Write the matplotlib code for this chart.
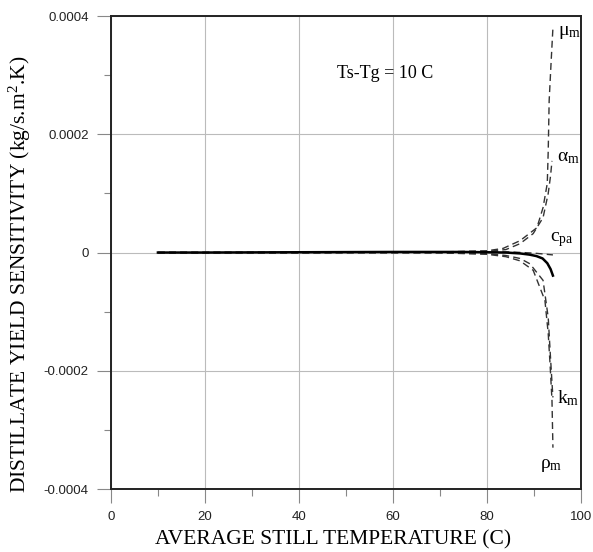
import matplotlib
matplotlib.use("Agg")
import matplotlib.pyplot as plt
from matplotlib.ticker import MultipleLocator

# Data
solid_x = [10, 20, 40, 60, 75, 80, 84, 87, 89, 90.5, 91.8, 92.8, 93.5, 94.0]
solid_y = [0, 0, 0.5e-6, 1.0e-6, 1.0e-6, 0.5e-6, 0, -1.5e-6, -3.5e-6, -6e-6, -1.0e-5, -1.8e-5, -2.8e-5, -3.9e-5]

mu_x = [10, 40, 70, 80, 83.4, 87.0, 90.6, 91.9, 92.8, 93.0, 93.2, 93.6, 94.0]
mu_y = [0, 0, 1e-6, 3e-6, 7e-6, 2.0e-5, 4.2e-5, 7.6e-5, 1.17e-4, 1.72e-4, 2.57e-4, 3.2e-4, 3.8e-4]

alpha_x = [10, 40, 70, 80, 84, 87.0, 89.8, 91.9, 93.0, 93.5, 93.8]
alpha_y = [0, 0, 1e-6, 2e-6, 5e-6, 1.5e-5, 3.2e-5, 5.9e-5, 1.0e-4, 1.3e-4, 1.55e-4]

cpa_x = [10, 40, 70, 80, 85, 90, 94.0]
cpa_y = [0, 0, 0.5e-6, 1e-6, 1e-6, -1e-6, -4e-6]

k_x = [10, 40, 70, 80, 84, 87, 89.1, 91.9, 93.0, 93.4, 93.8, 94.0]
k_y = [0, 0, -0.5e-6, -2e-6, -5e-6, -1.0e-5, -1.9e-5, -4.7e-5, -1.1e-4, -1.66e-4, -2.2e-4, -2.45e-4]

rho_x = [10, 40, 70, 80, 84, 87, 89.8, 92.3, 93.0, 93.4, 93.8, 94.0]
rho_y = [0, 0, -0.5e-6, -3e-6, -7e-6, -1.4e-5, -3.0e-5, -8.1e-5, -1.37e-4, -1.9e-4, -2.5e-4, -3.3e-4]

x_ticks = [0, 20, 40, 60, 80, 100]
y_ticks = [-0.0004, -0.0002, 0, 0.0002, 0.0004]
y_ticklabels = ["-0.0004", "-0.0002", "0", "0.0002", "0.0004"]

serif = "Liberation Serif"
sans = "Liberation Sans"

plt.rcParams["mathtext.fontset"] = "custom"
plt.rcParams["mathtext.rm"] = serif
plt.rcParams["mathtext.it"] = serif + ":italic"

fig = plt.figure(figsize=(5.93, 5.52), dpi=100)
ax = fig.add_axes([0.187, 0.114, 0.793, 0.857])

dash = (0, (5, 3))
ax.plot(mu_x, mu_y, color="#333333", lw=1.0, ls=dash)
ax.plot(alpha_x, alpha_y, color="#333333", lw=1.0, ls=dash)
ax.plot(cpa_x, cpa_y, color="#333333", lw=1.0, ls=dash)
ax.plot(k_x, k_y, color="#333333", lw=1.0, ls=dash)
ax.plot(rho_x, rho_y, color="#333333", lw=1.0, ls=dash)
ax.plot(solid_x, solid_y, color="black", lw=1.8)

ax.set_xlim(0, 100)
ax.set_ylim(-0.0004, 0.0004)
ax.set_xticks(x_ticks)
ax.set_yticks(y_ticks)
ax.set_yticklabels(y_ticklabels)
ax.xaxis.set_minor_locator(MultipleLocator(10))
ax.yaxis.set_minor_locator(MultipleLocator(0.0001))
ax.grid(True, which="major", color="#bbbbbb", lw=0.8)
ax.set_axisbelow(True)
ax.tick_params(which="major", direction="out", length=10, width=0.8, color="#888888", pad=6)
ax.tick_params(which="minor", direction="out", length=5, width=0.8, color="#888888")
for lab in ax.get_xticklabels() + ax.get_yticklabels():
    lab.set_fontfamily(sans)
    lab.set_fontsize(9.5)
    lab.set_color("#222222")
for sp in ax.spines.values():
    sp.set_linewidth(1.4)
    sp.set_color("#222222")

ax.set_xlabel("AVERAGE STILL TEMPERATURE (C)", family=serif, fontsize=15.5)
ax.xaxis.set_label_coords(0.473, -0.088)
ax.set_ylabel("DISTILLATE YIELD SENSITIVITY (kg/s.m$^{2}$.K)", family=serif, fontsize=15.5)
ax.yaxis.set_label_coords(-0.166, 0.455)

ax.text(48.1, 3.02e-4, "Ts-Tg = 10 C", family=serif, fontsize=13, va="center", ha="left")

lbl_kw = dict(fontsize=14, va="center", ha="left", family=serif)
ax.text(95.0, 3.72e-4, "$\\mathrm{\u03bc}_{\\mathrm{m}}$", **lbl_kw)
ax.text(94.9, 1.6e-4, "$\\mathrm{\u03b1}_{\\mathrm{m}}$", **lbl_kw)
ax.text(93.4, 2.2e-5, "$\\mathrm{c}_{\\mathrm{pa}}$", **lbl_kw)
ax.text(94.9, -2.47e-4, "$\\mathrm{k}_{\\mathrm{m}}$", **lbl_kw)
ax.text(91.3, -3.6e-4, "$\\mathrm{\u03c1}_{\\mathrm{m}}$", **lbl_kw)

fig.savefig("out.png", dpi=100)
